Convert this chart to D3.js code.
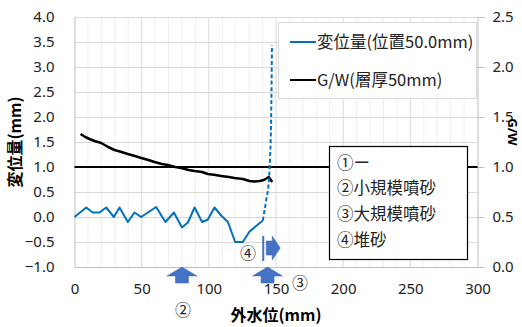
<html>
<head>
<meta charset="utf-8">
<script src="https://d3js.org/d3.v7.min.js"></script>
<style>
body { margin: 0; background: #fff; }
text { font-family: "Noto Sans", "Noto Sans CJK JP", sans-serif; }
.jp { font-family: "Noto Sans CJK JP", sans-serif; }
</style>
</head>
<body>
<script>
// Width and height
var w = 522, h = 327;

// data
var dispX = [0, 8.7, 13.6, 18.6, 23.6, 29.3, 33.5, 39.7, 44.7, 49.6, 60.8, 67.7, 74, 80, 84.4, 89.4, 95, 99.3, 104.2, 109.2, 114.2, 119.6, 125.3, 130.3, 140.2];
var dispY = [0.0, 0.19, 0.09, 0.09, 0.19, 0.0, 0.19, -0.1, 0.09, 0.0, 0.2, -0.1, 0.09, -0.21, -0.11, 0.19, -0.1, -0.05, 0.19, 0.03, -0.1, -0.5, -0.5, -0.29, -0.07];
var dashX = [140.2, 142.7, 144.7, 145.6, 146.4, 147];
var dashY = [-0.07, 0.34, 0.74, 1.2, 2.0, 3.44];
var gwX = [4.5, 8, 11.2, 15, 19.9, 25, 29.8, 35, 39.7, 45, 49.7, 55, 59.6, 65, 69.5, 75, 79.4, 85, 89.4, 95, 99.3, 105, 109.2, 115, 119.1, 125.3, 130.3, 134, 137.8, 141, 144.6, 147.2];
var gwY = [1.33, 1.30, 1.28, 1.26, 1.24, 1.20, 1.17, 1.15, 1.13, 1.11, 1.09, 1.07, 1.05, 1.03, 1.02, 1.00, 0.99, 0.97, 0.96, 0.95, 0.93, 0.92, 0.91, 0.90, 0.89, 0.88, 0.86, 0.855, 0.86, 0.87, 0.90, 0.85];
var xTicks = [0, 50, 100, 150, 200, 250, 300];
var yLeftTicks = [-1.0, -0.5, 0.0, 0.5, 1.0, 1.5, 2.0, 2.5, 3.0, 3.5, 4.0];
var yRightTicks = [0.0, 0.5, 1.0, 1.5, 2.0, 2.5];
var legendNames = ["変位量(位置50.0mm)", "G/W(層厚50mm)"];
var noteLines = ["①ー", "②小規模噴砂", "③大規模噴砂", "④堆砂"];
var upArrowX = [80, 143.7];

var svg = d3.select("body").append("svg")
	.attr("width", w)
	.attr("height", h);

var x = d3.scaleLinear().domain([0, 300]).range([74.5, 477.5]);
var yL = d3.scaleLinear().domain([-1, 4]).range([267, 17]);
var yR = d3.scaleLinear().domain([0, 2.5]).range([267, 17]);

// gridlines
var minor = d3.range(10, 300, 10).filter(function(d) { return d % 50 != 0; });
svg.append("g").selectAll("line").data(minor).enter().append("line")
	.attr("x1", function(d) { return x(d); }).attr("x2", function(d) { return x(d); })
	.attr("y1", yL(4)).attr("y2", yL(-1))
	.attr("stroke", "#efefef");
svg.append("g").selectAll("line").data(xTicks.slice(1, -1)).enter().append("line")
	.attr("x1", function(d) { return x(d); }).attr("x2", function(d) { return x(d); })
	.attr("y1", yL(4)).attr("y2", yL(-1))
	.attr("stroke", "#d9d9d9");
svg.append("g").selectAll("line").data(yLeftTicks.slice(1)).enter().append("line")
	.attr("x1", x(0)).attr("x2", x(300))
	.attr("y1", function(d) { return Math.round(yL(d)) + 0.5; })
	.attr("y2", function(d) { return Math.round(yL(d)) + 0.5; })
	.attr("stroke", "#d9d9d9");

// axes
var axL = svg.append("g").attr("transform", "translate(" + x(0) + ",0)")
	.call(d3.axisLeft(yL).tickValues(yLeftTicks).tickSize(0).tickPadding(20).tickFormat(d3.format(".1f")));
var axR = svg.append("g").attr("transform", "translate(" + x(300) + ",0)")
	.call(d3.axisRight(yR).tickValues(yRightTicks).tickSize(7).tickPadding(8).tickFormat(d3.format(".1f")));
var axB = svg.append("g").attr("transform", "translate(0," + yL(-1) + ")")
	.call(d3.axisBottom(x).tickValues(xTicks).tickSize(0).tickPadding(16));
[axL, axR, axB].forEach(function(a) {
	a.select(".domain").attr("stroke", "#bfbfbf");
	a.selectAll(".tick line").attr("stroke", "#bfbfbf");
	a.selectAll("text").attr("font-size", 15).attr("fill", "#222")
		.style("font-family", "'Noto Sans', sans-serif");
});

// axis titles
svg.append("text").attr("class", "jp")
	.attr("transform", "translate(21,142) rotate(-90)")
	.attr("text-anchor", "middle")
	.attr("font-size", 16).attr("font-weight", "bold")
	.text("変位量(mm)");
svg.append("text").attr("class", "jp")
	.attr("x", 276).attr("y", 321)
	.attr("text-anchor", "middle")
	.attr("font-size", 16).attr("font-weight", "bold")
	.text("外水位(mm)");
svg.append("text")
	.attr("transform", "translate(508,132) rotate(90)")
	.attr("text-anchor", "middle")
	.attr("font-size", 13).attr("font-weight", "bold")
	.text("G/W");

// G/W = 1 line
svg.append("line")
	.attr("x1", x(0)).attr("x2", x(300))
	.attr("y1", yR(1)).attr("y2", yR(1))
	.attr("stroke", "#000").attr("stroke-width", 2);

// G/W series
var gwLine = d3.line()
	.x(function(d) { return x(d[0]); })
	.y(function(d) { return yR(d[1]); });
svg.append("path")
	.datum(d3.zip(gwX, gwY))
	.attr("d", gwLine)
	.attr("fill", "none").attr("stroke", "#000").attr("stroke-width", 2.5)
	.attr("stroke-linejoin", "round");

// displacement series
var dLine = d3.line()
	.x(function(d) { return x(d[0]); })
	.y(function(d) { return yL(d[1]); });
svg.append("path")
	.datum(d3.zip(dispX, dispY))
	.attr("d", dLine)
	.attr("fill", "none").attr("stroke", "#0070c0").attr("stroke-width", 2)
	.attr("stroke-linejoin", "round");
svg.append("path")
	.datum(d3.zip(dashX, dashY))
	.attr("d", dLine.curve(d3.curveMonotoneX))
	.attr("fill", "none").attr("stroke", "#0070c0").attr("stroke-width", 2)
	.attr("stroke-dasharray", "4,2.5");

// legend
var lg = svg.append("g");
lg.append("rect").attr("x", 278.5).attr("y", 22.5).attr("width", 198).attr("height", 76)
	.attr("fill", "#fff").attr("stroke", "#d9d9d9");
var lgColors = ["#0070c0", "#000"];
legendNames.forEach(function(n, i) {
	var yy = 42 + i * 38;
	lg.append("line").attr("x1", 290).attr("x2", 316).attr("y1", yy).attr("y2", yy)
		.attr("stroke", lgColors[i]).attr("stroke-width", 2);
	lg.append("text").attr("class", "jp").attr("x", 317).attr("y", yy)
		.attr("dy", "0.35em").attr("font-size", 16.5).attr("fill", "#222")
		.text(n);
});

// note box
var nb = svg.append("g");
nb.append("rect").attr("x", 329.5).attr("y", 146.5).attr("width", 138).attr("height", 113)
	.attr("fill", "#fff").attr("stroke", "#000").attr("stroke-width", 1.2);
noteLines.forEach(function(n, i) {
	nb.append("text").attr("class", "jp").attr("x", 337).attr("y", 163 + i * 25.7)
		.attr("dy", "0.35em").attr("font-size", 16.5).attr("fill", "#222")
		.text(n);
});

// arrows
var blue = "#4472c4";
upArrowX.forEach(function(v) {
	var cx = x(v), ty = 267;
	svg.append("path")
		.attr("d", "M" + cx + "," + ty + " L" + (cx + 15) + "," + (ty + 9) + " L" + (cx + 6.5) + "," + (ty + 9) +
			" L" + (cx + 6.5) + "," + (ty + 16) + " L" + (cx - 6.5) + "," + (ty + 16) + " L" + (cx - 6.5) + "," + (ty + 9) +
			" L" + (cx - 15) + "," + (ty + 9) + " Z")
		.attr("fill", blue).attr("stroke", "#3a64b0").attr("stroke-width", 0.5);
});
// right arrow next to ④
var rx = x(140.5), ry = yL(-0.62);
svg.append("rect").attr("x", rx - 1).attr("y", ry - 12).attr("width", 2).attr("height", 25).attr("fill", blue);
svg.append("path")
	.attr("d", "M" + (rx + 3) + "," + (ry - 7) + " L" + (rx + 9) + "," + (ry - 7) + " L" + (rx + 9) + "," + (ry - 12) +
		" L" + (rx + 17) + "," + ry + " L" + (rx + 9) + "," + (ry + 12) + " L" + (rx + 9) + "," + (ry + 7) +
		" L" + (rx + 3) + "," + (ry + 7) + " Z")
	.attr("fill", blue).attr("stroke", "#3a64b0").attr("stroke-width", 0.5);

// circled labels
svg.append("text").attr("class", "jp").attr("x", 248).attr("y", 253).attr("dy", "0.35em")
	.attr("text-anchor", "middle").attr("font-size", 16).attr("fill", "#222").text("④");
svg.append("text").attr("class", "jp").attr("x", 300).attr("y", 283).attr("dy", "0.35em")
	.attr("text-anchor", "middle").attr("font-size", 16).attr("fill", "#222").text("③");
svg.append("text").attr("class", "jp").attr("x", 183).attr("y", 310).attr("dy", "0.35em")
	.attr("text-anchor", "middle").attr("font-size", 16).attr("fill", "#222").text("②");
</script>
</body>
</html>
